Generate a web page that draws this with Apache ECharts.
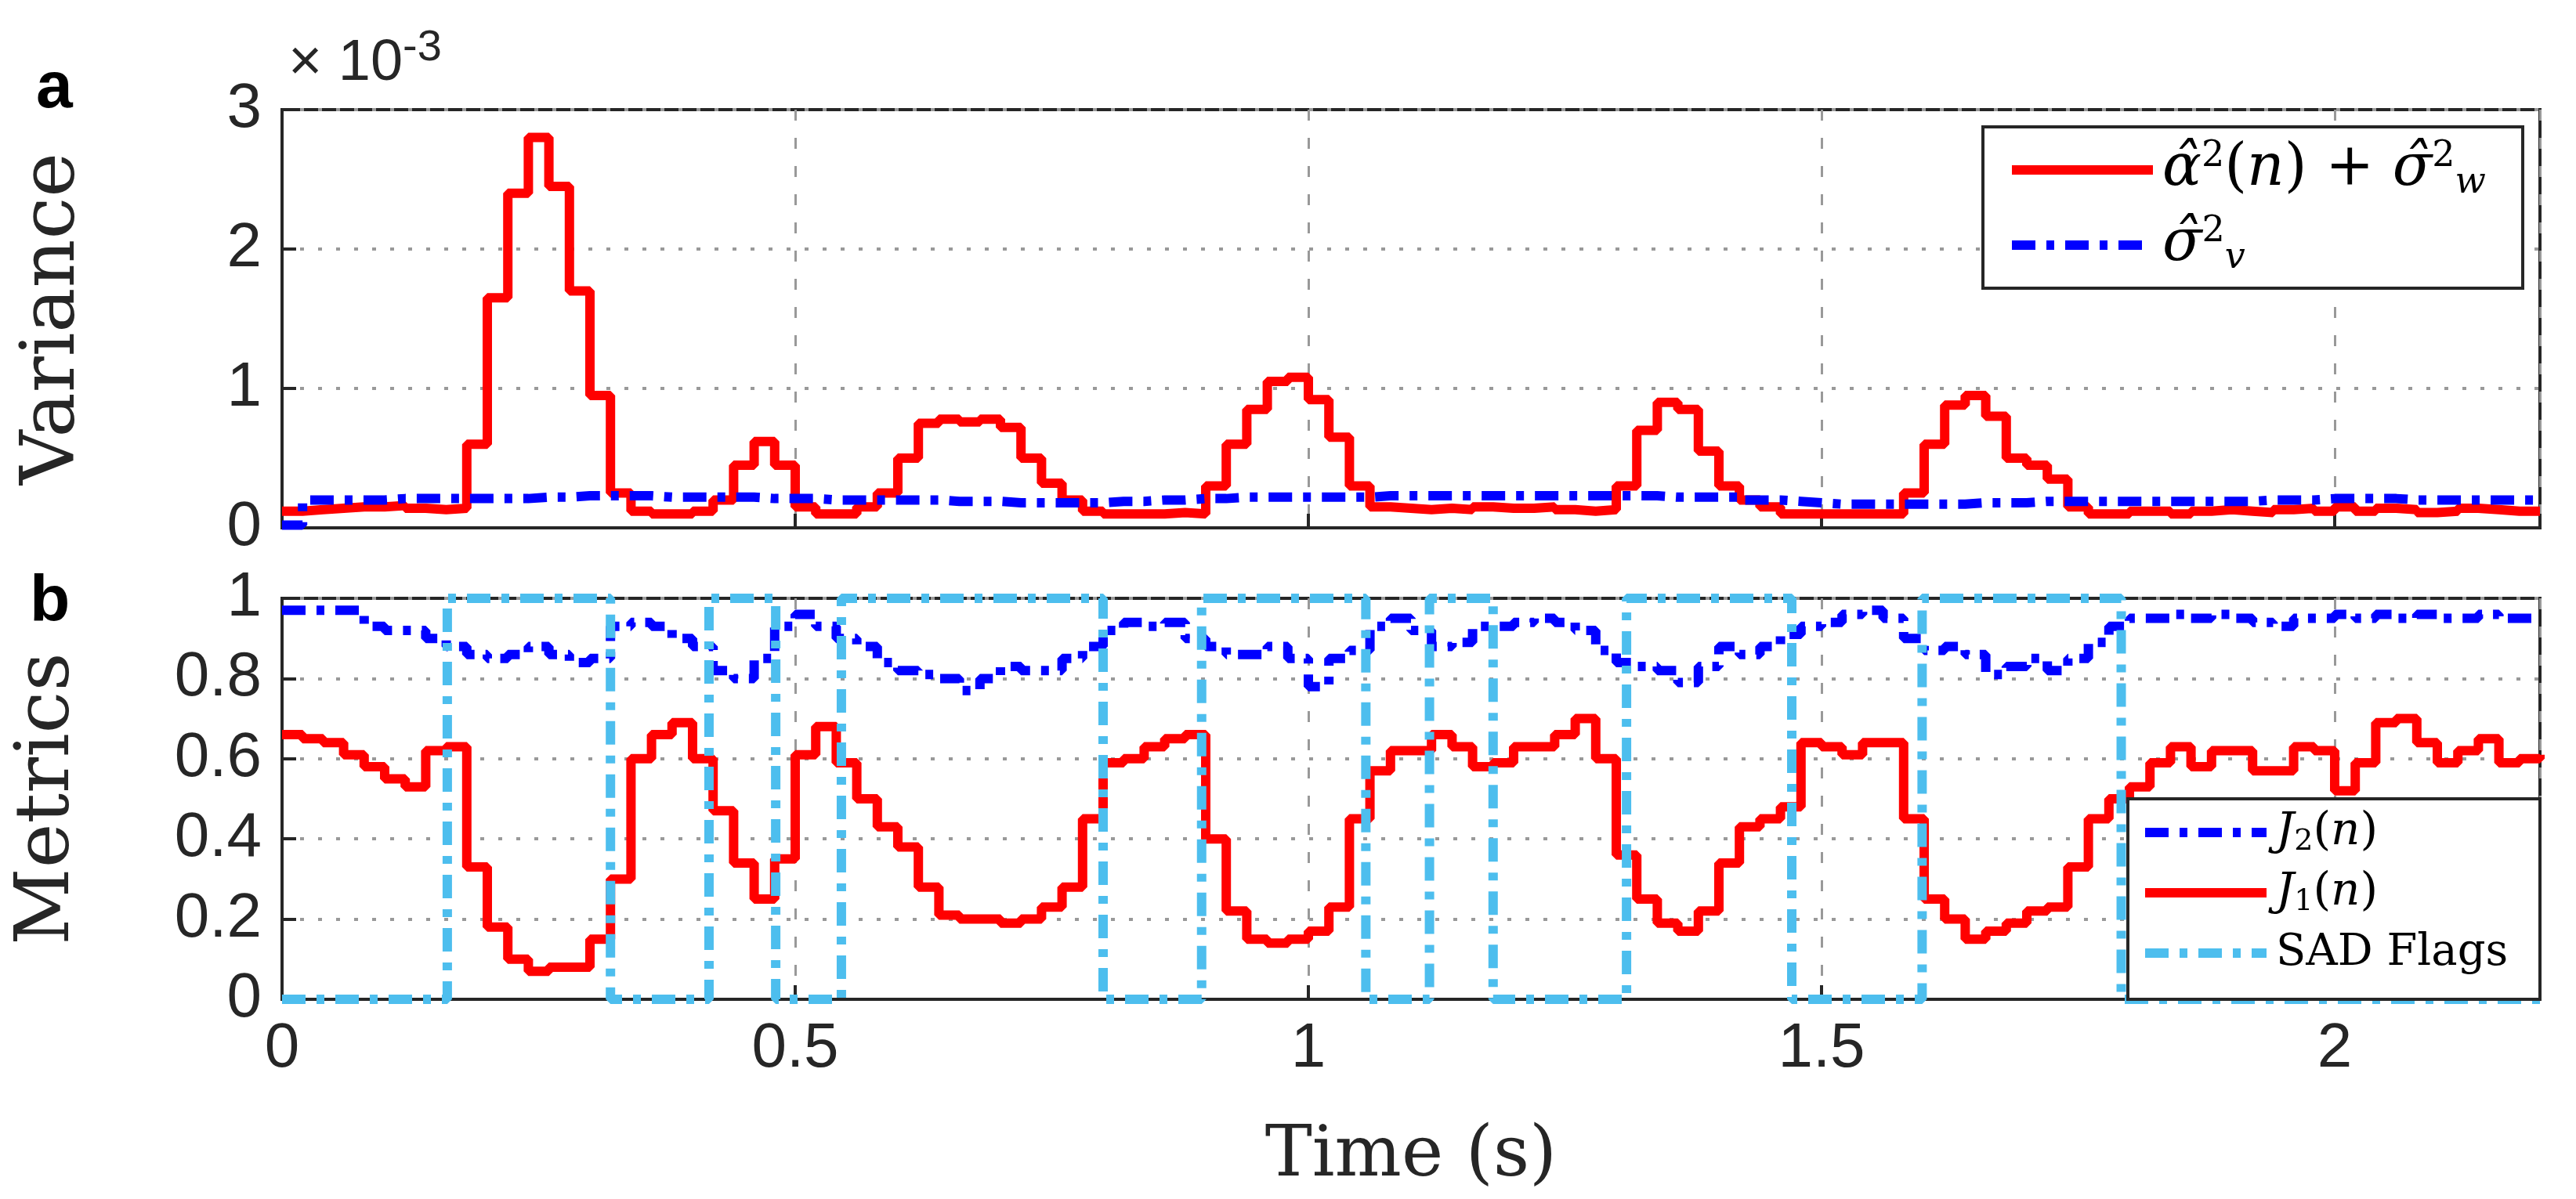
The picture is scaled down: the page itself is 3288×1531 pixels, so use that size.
<!DOCTYPE html>
<html><head><meta charset="utf-8">
<script src="https://cdn.jsdelivr.net/npm/echarts@6/dist/echarts.min.js"></script>
<style>html,body{margin:0;padding:0;background:#fff}#c{width:3288px;height:1531px}</style>
</head><body><div id="c"></div>
<script>
// sampled every 0.02 s from 0 to 2.2 s
const timeStep = 0.02;
const varSignal = [ // alpha^2(n)+sigma_w^2, units of 1e-3
0.12,0.13,0.14,0.15,0.15,0.16,0.14,0.13,0.14,0.6,
1.65,2.4,2.8,2.45,1.7,0.95,0.25,0.12,0.1,0.1,
0.12,0.2,0.45,0.62,0.45,0.15,0.1,0.1,0.15,0.25,
0.5,0.75,0.78,0.76,0.78,0.72,0.5,0.32,0.2,0.12,
0.1,0.1,0.1,0.11,0.1,0.3,0.6,0.85,1.05,1.08,
0.92,0.65,0.3,0.15,0.14,0.13,0.14,0.13,0.15,0.14,
0.14,0.15,0.13,0.12,0.13,0.3,0.7,0.9,0.85,0.55,
0.3,0.2,0.15,0.1,0.1,0.1,0.1,0.1,0.1,0.25,
0.6,0.88,0.95,0.8,0.5,0.45,0.35,0.15,0.1,0.1,
0.12,0.12,0.1,0.12,0.13,0.12,0.11,0.13,0.14,0.12,
0.15,0.12,0.14,0.13,0.11,0.12,0.14,0.13,0.12,0.12,0.12];
const varNoise = [ // sigma_v^2, units of 1e-3
0.02,0.2,0.2,0.2,0.2,0.21,0.21,0.21,0.21,0.21,
0.21,0.21,0.22,0.22,0.23,0.23,0.23,0.23,0.22,0.22,
0.22,0.22,0.22,0.21,0.21,0.21,0.2,0.2,0.2,0.2,
0.2,0.2,0.19,0.19,0.19,0.18,0.18,0.18,0.18,0.18,
0.19,0.19,0.2,0.2,0.21,0.21,0.22,0.22,0.22,0.22,
0.22,0.22,0.22,0.23,0.23,0.23,0.23,0.23,0.23,0.23,
0.23,0.23,0.23,0.23,0.23,0.23,0.23,0.22,0.22,0.22,
0.22,0.2,0.2,0.19,0.18,0.17,0.17,0.17,0.17,0.17,
0.17,0.17,0.18,0.18,0.18,0.19,0.19,0.19,0.19,0.19,
0.19,0.19,0.19,0.19,0.19,0.19,0.2,0.2,0.2,0.21,
0.21,0.21,0.21,0.2,0.2,0.2,0.2,0.2,0.2,0.2,0.2];
const j1 = [
0.66,0.65,0.64,0.61,0.58,0.55,0.53,0.62,0.63,0.33,
0.18,0.1,0.07,0.08,0.08,0.15,0.3,0.6,0.66,0.69,
0.6,0.47,0.34,0.25,0.35,0.61,0.68,0.59,0.5,0.43,
0.38,0.28,0.21,0.2,0.2,0.19,0.2,0.23,0.28,0.45,
0.59,0.6,0.63,0.65,0.66,0.4,0.22,0.15,0.14,0.15,
0.17,0.23,0.45,0.57,0.62,0.62,0.66,0.63,0.58,0.59,
0.63,0.63,0.66,0.7,0.6,0.36,0.25,0.19,0.17,0.22,
0.34,0.43,0.45,0.48,0.64,0.63,0.61,0.64,0.64,0.45,
0.25,0.2,0.15,0.17,0.19,0.22,0.23,0.33,0.45,0.5,
0.53,0.59,0.63,0.58,0.62,0.62,0.57,0.57,0.63,0.62,
0.52,0.59,0.69,0.7,0.64,0.59,0.62,0.65,0.59,0.6,0.61];
const j2 = [
0.97,0.97,0.97,0.97,0.93,0.92,0.92,0.9,0.88,0.86,
0.85,0.86,0.88,0.86,0.84,0.85,0.93,0.94,0.93,0.9,
0.88,0.82,0.8,0.85,0.93,0.96,0.93,0.9,0.88,0.84,
0.82,0.81,0.8,0.77,0.8,0.83,0.82,0.82,0.85,0.88,
0.92,0.94,0.93,0.94,0.9,0.88,0.86,0.86,0.88,0.85,
0.78,0.85,0.87,0.93,0.95,0.92,0.88,0.89,0.93,0.93,
0.94,0.95,0.94,0.92,0.87,0.84,0.83,0.82,0.79,0.83,
0.88,0.86,0.88,0.91,0.93,0.94,0.96,0.97,0.95,0.9,
0.87,0.88,0.86,0.81,0.83,0.85,0.82,0.85,0.89,0.93,
0.95,0.95,0.96,0.95,0.96,0.95,0.94,0.93,0.95,0.95,
0.96,0.95,0.96,0.95,0.96,0.95,0.95,0.96,0.95,0.95,0.95];
const flagTimes = [0,0.161,0.32,0.416,0.481,0.545,0.80,0.896,1.056,1.118,1.18,1.31,1.471,1.598,1.792,2.2];
const flagValues = [0,1,0,1,0,1,0,1,0,1,0,1,0,1,0,0];
const xTicks = [0,0.5,1,1.5,2];

const pts = a => a.map((v,i)=>[+(i*timeStep).toFixed(3), v]);
const flagPts = flagTimes.map((t,i)=>[t, flagValues[i]]);

const SANS = '"Liberation Sans", Arial, sans-serif';
const SERIF = '"DejaVu Serif", "Liberation Serif", serif';
const AX = '#262626';
const chart = echarts.init(document.getElementById('c'));
const xBase = (gi, show) => ({
  type:'value', gridIndex:gi, min:0, max:2.2, interval:0.5,
  axisLine:{show:true, onZero:false, lineStyle:{color:AX,width:4}},
  axisTick:{show:true, inside:true, length:18, lineStyle:{color:AX,width:4}},
  axisLabel:{show:show, fontFamily:SANS, fontSize:80, color:AX, margin:24,
    formatter:v=> xTicks.includes(v)? String(v):''},
  splitLine:{show:true, lineStyle:{color:'#999',type:[14,22],width:3}}
});
const yBase = (gi, min, max, iv, fmt) => ({
  type:'value', gridIndex:gi, min:min, max:max, interval:iv,
  axisLine:{show:true, lineStyle:{color:AX,width:4}},
  axisTick:{show:true, inside:true, length:18, lineStyle:{color:AX,width:4}},
  axisLabel:{fontFamily:SANS, fontSize:80, color:AX, margin:26, formatter:fmt},
  splitLine:{show:true, lineStyle:{color:'#999',type:[5,18],width:4}}
});
const dashDot = [30,14,10,14];
const LW = 12;
const option = {
  backgroundColor:'#fff', animation:false,
  grid:[
    {left:360, top:140, width:2882, height:534, show:true, borderColor:AX, borderWidth:4},
    {left:360, top:764, width:2882, height:512, show:true, borderColor:AX, borderWidth:4}
  ],
  xAxis:[xBase(0,false), xBase(1,true)],
  yAxis:[yBase(0,0,3,1,v=>String(v)), yBase(1,0,1,0.2,v=>String(+v.toFixed(1)))],
  series:[
    {type:'line', xAxisIndex:0, yAxisIndex:0, step:'end', showSymbol:false, data:pts(varSignal),
     lineStyle:{color:'#ff0000', width:LW}, z:3},
    {type:'line', xAxisIndex:0, yAxisIndex:0, step:'end', showSymbol:false, data:pts(varNoise),
     lineStyle:{color:'#0000ff', width:LW, type:dashDot}, z:4},
    {type:'line', xAxisIndex:1, yAxisIndex:1, step:'end', showSymbol:false, data:pts(j2),
     lineStyle:{color:'#0000ff', width:LW, type:dashDot}, z:3},
    {type:'line', xAxisIndex:1, yAxisIndex:1, step:'end', showSymbol:false, data:pts(j1),
     lineStyle:{color:'#ff0000', width:LW}, z:3},
    {type:'line', xAxisIndex:1, yAxisIndex:1, step:'end', showSymbol:false, data:flagPts,
     lineStyle:{color:'#4DBEEE', width:LW, type:dashDot}, z:4}
  ],
  graphic:[
    {type:'text', left:46, top:72, style:{text:'a', font:'bold 84px '+SANS, fill:'#000'}},
    {type:'text', left:38, top:728, style:{text:'b', font:'bold 84px '+SANS, fill:'#000'}},
    {type:'text', x:69, y:407, rotation:Math.PI/2, style:{text:'Variance', font:'96px '+SERIF, fill:AX, align:'center', verticalAlign:'middle'}},
    {type:'text', x:62, y:1020, rotation:Math.PI/2, style:{text:'Metrics', font:'96px '+SERIF, fill:AX, align:'center', verticalAlign:'middle'}},
    {type:'text', x:1801, y:1478, style:{text:'Time (s)', font:'90px '+SERIF, fill:AX, align:'center', verticalAlign:'middle'}},
    {type:'text', left:368, top:34, style:{rich:{m:{font:'74px '+SANS, fill:AX}, s:{font:'56px '+SANS, fill:AX, verticalAlign:'top', padding:[0,0,40,0]}}, text:'{m|× 10}{s|-3}'}},
    // legend a
    {type:'rect', shape:{x:2531, y:162, width:689, height:206}, style:{fill:'#fff', stroke:AX, lineWidth:4}, z:10},
    {type:'line', shape:{x1:2568, y1:217, x2:2748, y2:217}, style:{stroke:'#ff0000', lineWidth:12}, z:11},
    {type:'line', shape:{x1:2568, y1:313, x2:2748, y2:313}, style:{stroke:'#0000ff', lineWidth:12, lineDash:dashDot}, z:11},
    {type:'text', x:2760, y:217, z:11, style:{verticalAlign:'middle', text:'{i|α̂}{p|2}{n|(}{i|n}{n|) + }{i|σ̂}{p|2}{b|w}',
      rich:{i:{font:'italic 74px '+SERIF, fill:'#000'}, n:{font:'74px '+SERIF, fill:'#000'},
            p:{font:'46px '+SERIF, fill:'#000', padding:[0,0,34,0]}, b:{font:'italic 46px '+SERIF, fill:'#000', padding:[34,0,0,0]}}}},
    {type:'text', x:2760, y:313, z:11, style:{verticalAlign:'middle', text:'{i|σ̂}{p|2}{b|v}',
      rich:{i:{font:'italic 74px '+SERIF, fill:'#000'}, p:{font:'46px '+SERIF, fill:'#000', padding:[0,0,34,0]}, b:{font:'italic 46px '+SERIF, fill:'#000', padding:[34,0,0,0]}}}},
    // legend b
    {type:'rect', shape:{x:2716, y:1020, width:526, height:256}, style:{fill:'#fff', stroke:AX, lineWidth:4}, z:10},
    {type:'line', shape:{x1:2738, y1:1063, x2:2893, y2:1063}, style:{stroke:'#0000ff', lineWidth:12, lineDash:dashDot}, z:11},
    {type:'line', shape:{x1:2738, y1:1140, x2:2893, y2:1140}, style:{stroke:'#ff0000', lineWidth:12}, z:11},
    {type:'line', shape:{x1:2738, y1:1217, x2:2893, y2:1217}, style:{stroke:'#4DBEEE', lineWidth:12, lineDash:dashDot}, z:11},
    {type:'text', x:2905, y:1063, z:11, style:{verticalAlign:'middle', text:'{i|J}{b|2}{n|(}{i|n}{n|)}',
      rich:{i:{font:'italic 58px '+SERIF, fill:'#000'}, n:{font:'58px '+SERIF, fill:'#000'}, b:{font:'38px '+SERIF, fill:'#000', padding:[24,0,0,0]}}}},
    {type:'text', x:2905, y:1140, z:11, style:{verticalAlign:'middle', text:'{i|J}{b|1}{n|(}{i|n}{n|)}',
      rich:{i:{font:'italic 58px '+SERIF, fill:'#000'}, n:{font:'58px '+SERIF, fill:'#000'}, b:{font:'38px '+SERIF, fill:'#000', padding:[24,0,0,0]}}}},
    {type:'text', x:2905, y:1217, z:11, style:{verticalAlign:'middle', text:'SAD Flags', font:'56px '+SERIF, fill:'#000'}}
  ]
};
chart.setOption(option);
</script></body></html>
